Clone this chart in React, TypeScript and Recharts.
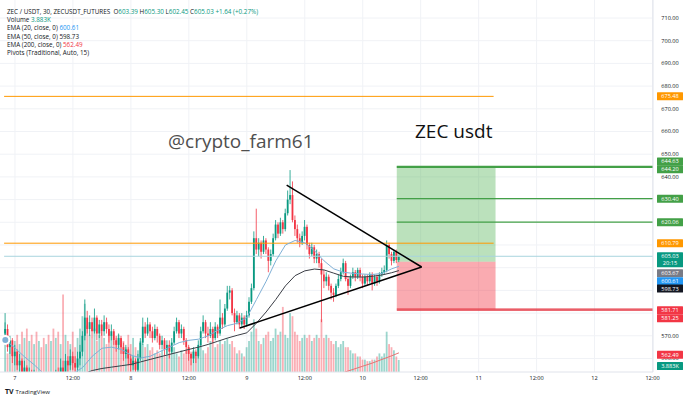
import React from 'react'
import {
  ComposedChart,
  Bar,
  Line,
  XAxis,
  YAxis,
  CartesianGrid,
  ReferenceLine,
  ReferenceArea,
} from 'recharts'

// 30 minute candles, t = half-hours since day 7 00:00
const startT = -4
const firstOpen = 571
const closes = [
  573, 565, 568, 561, 563,
  557, 559, 554, 556, 551, 553, 549, 552, 548, 550,
  547, 545, 548, 546, 549, 547, 552, 550, 556, 554,
  559, 557, 561, 558, 556, 560, 563, 570, 578, 573,
  576, 572, 578, 571, 575, 572, 576, 573, 570, 572,
  568, 566, 569, 565, 562, 564, 560, 557, 559, 555,
  560, 567, 574, 571, 575, 572, 569, 573, 570, 566,
  568, 564, 566, 563, 567, 572, 576, 571, 573, 568,
  565, 562, 560, 563, 561, 566, 572, 576, 571, 570,
  573, 569, 574, 571, 578, 575, 582, 589, 590, 580,
  576, 579, 575, 578, 575, 579, 585, 591, 613, 608,
  611, 607, 612, 608, 603, 606, 613, 619, 615, 620,
  617, 624, 630, 632, 621, 617, 613, 611, 614, 618,
  610, 606, 609, 604, 606, 602, 597, 594, 596, 592,
  589, 588, 592, 595, 598, 602, 595, 592, 596, 598,
  596, 599, 596, 593, 596, 594, 597, 593, 596, 594,
  597, 598, 599, 610, 606, 603, 607, 603.39, 605.03,
]
const highs = [
  580, 575, 570, 569, 566,
  564, 562, 560, 559, 557, 556, 555, 555, 553, 554,
  552, 550, 551, 550, 553, 552, 555, 556, 560, 559,
  562, 561, 564, 563, 561, 563, 566, 572, 586, 581,
  579, 578, 582, 579, 577, 577, 579, 578, 575, 575,
  573, 570, 571, 570, 567, 566, 565, 562, 561, 560,
  562, 569, 578, 576, 578, 576, 574, 575, 574, 571,
  570, 569, 568, 568, 569, 574, 578, 577, 575, 574,
  569, 566, 563, 565, 564, 568, 574, 579, 577, 574,
  576, 574, 576, 575, 586, 580, 584, 592, 592, 591,
  582, 581, 580, 580, 579, 581, 587, 593, 616, 626,
  613, 612, 614, 613, 609, 608, 615, 621, 620, 622,
  621, 626, 634, 643, 638, 623, 619, 615, 616, 621,
  619, 611, 611, 610, 608, 607, 604, 599, 598, 597,
  593, 591, 593, 597, 600, 604, 603, 596, 597, 600,
  599, 600, 600, 597, 597, 597, 598, 598, 597, 597,
  598, 600, 601, 612, 611, 607, 608, 608, 605.3,
]
const lows = [
  570, 563, 562, 558, 557,
  555, 553, 551, 550, 548, 549, 546, 547, 545, 546,
  544, 542, 543, 543, 544, 545, 546, 547, 548, 550,
  551, 553, 555, 555, 553, 554, 557, 561, 568, 571,
  570, 569, 571, 568, 569, 570, 570, 571, 567, 568,
  566, 563, 564, 562, 559, 560, 557, 554, 555, 552,
  554, 559, 566, 569, 570, 569, 567, 568, 567, 564,
  564, 561, 562, 560, 562, 566, 571, 569, 569, 566,
  562, 559, 557, 558, 558, 560, 565, 571, 569, 567,
  569, 567, 568, 569, 570, 573, 574, 581, 586, 579,
  572, 575, 573, 574, 573, 574, 578, 584, 590, 606,
  605, 604, 606, 606, 598, 601, 605, 612, 613, 614,
  615, 616, 623, 628, 620, 614, 611, 609, 610, 612,
  608, 604, 605, 602, 602, 600, 576, 591, 592, 590,
  586, 585, 587, 591, 594, 597, 594, 588, 591, 595,
  594, 595, 594, 591, 592, 592, 593, 590, 592, 592,
  593, 596, 597, 598, 604, 601, 602, 602, 602.45,
]
// volume in thousands
const volumes = [
  16, 6, 9, 8, 10,
  12, 9, 13, 11, 14, 10, 12, 9, 13, 10,
  8, 11, 9, 12, 10, 14, 11, 13, 9, 25,
  12, 10, 9, 13, 8, 11, 14, 18, 22, 15,
  12, 11, 14, 10, 12, 13, 11, 9, 13, 12,
  10, 11, 12, 9, 10, 8, 12, 9, 11, 8,
  7, 10, 9, 8, 9, 7, 8, 6, 7, 6,
  7, 5, 8, 6, 7, 8, 6, 5, 7, 6,
  7, 8, 6, 7, 5, 8, 9, 7, 6, 8,
  10, 12, 8, 9, 10, 9, 10, 11, 9, 10,
  8, 6, 7, 6, 5, 8, 10, 13, 17, 14,
  10, 9, 11, 12, 13, 10, 11, 14, 12, 13,
  21, 12, 11, 19, 18, 13, 12, 10, 11, 12,
  11, 12, 10, 11, 12, 11, 17, 11, 12, 11,
  10, 9, 10, 8, 9, 10, 8, 8, 7, 6,
  6, 5, 5, 4, 4, 3.5, 3.5, 4, 4, 5,
  6, 5, 6, 13, 9, 8, 7, 5, 3.883,
]

// EMA readings taken every 2 hours
const emaT = [
  -4, 0, 4, 8, 12, 16, 20, 24, 28, 32,
  36, 40, 44, 48, 52, 56, 60, 64, 68, 72,
  76, 80, 84, 88, 92, 96, 100, 104, 108, 112,
  116, 120, 124, 128, 132, 136, 140, 144, 148, 152,
  156, 159,
]
const ema20 = [
  568.2, 564.6, 560.7, 557.2, 553.2, 552.6, 552.4, 553.4, 556, 561,
  564.5, 565, 564, 561.5, 560.2, 561, 563, 565, 567, 568,
  568.5, 570, 572.5, 574.5, 575.5, 578, 586, 594, 603, 610,
  612, 611, 607.5, 603, 599.5, 598, 597.5, 597.2, 597, 597.5,
  599.5, 600.61,
]
const ema50 = [
  551, 551, 550.5, 550, 549.5, 549.5, 550, 551, 553, 554.7,
  555.6, 556.2, 556.8, 557.4, 558.5, 559.6, 560.7, 561.8, 562.9, 564,
  565, 566.2, 567.6, 569, 570.2, 571.3, 575.6, 580.5, 586, 592,
  596.5, 598.6, 599.4, 599, 597.6, 596.2, 595.9, 595.9, 596.2, 596.8,
  597.8, 598.73,
]
const ema200T = [116, 120, 124, 128, 132, 136, 140, 144, 148, 152, 156, 159]
const ema200 = [549.6, 550.2, 551, 551.8, 552.8, 553.8, 555.2, 556.6, 558, 559.6, 561.2, 562.49]

const xTicks = [0, 24, 48, 72, 96, 120, 144, 168, 192, 216, 240, 264]
const xTickLabels = ['7', '12:00', '8', '12:00', '9', '12:00', '10', '12:00', '11', '12:00', '12', '12:00']
const priceTicks = [710, 700, 690, 680, 670, 660, 650, 640, 570, 560]
const gridPrices = [560, 570, 580, 590, 600, 610, 620, 630, 640, 650, 660, 670, 680, 690, 700, 710]

// right scale price tags
const tagValues = [675.48, 644.63, 644.2, 630.4, 620.06, 610.79, 605.03, 603.67, 600.61, 598.73, 581.71, 581.25, 562.49]
const tagColors = ['#ff9800', '#43a047', '#43a047', '#43a047', '#43a047', '#ff9800', '#089981', '#787b86', '#2196f3', '#131722', '#f23645', '#f23645', '#f23645']
const tagShift = [0, -5, 2, 0, 0, 0, 0, 14, 15, 18, 1, 8, 2]
const countdown = '20:15'
const lastVolume = 3.883

// drawings
const pivotLevels = [675.48, 610.79]
const pivotFrom = -4.5
const pivotTo = 198.2
const lastPrice = 605.03
const boxFrom = 158.1
const boxTo = 199
const entry = 602.6
const targets = [644.63, 644.2, 630.4, 620.06]
const stops = [581.71, 581.25]
const upperTrend = [{ x: 112.5, y: 636.4 }, { x: 168.4, y: 600.3 }]
const lowerTrend = [{ x: 93.1, y: 573.4 }, { x: 168.4, y: 600.3 }]

const X_DOMAIN: [number, number] = [-6.2, 264.2]
const Y_DOMAIN: [number, number] = [554.05, 717.93]
const UP = '#089981'
const DOWN = '#f23645'
const FONT = '"Open Sans", "DejaVu Sans", sans-serif'

const candles = closes.map((c, i) => ({
  t: startT + i,
  o: i === 0 ? firstOpen : closes[i - 1],
  h: highs[i],
  l: lows[i],
  c,
  v: volumes[i],
}))

const ema20Data = emaT.map((t, i) => ({ t, v: ema20[i] }))
const ema50Data = emaT.map((t, i) => ({ t, v: ema50[i] }))
const ema200Data = ema200T.map((t, i) => ({ t, v: ema200[i] }))

const Candle = (props: any) => {
  const { x, y, width, height, payload } = props
  if (x == null || !payload) return null
  const top = Math.min(y, y + height)
  const span = Math.abs(height)
  const k = span / (payload.h - payload.l || 1)
  const yo = top + (payload.h - payload.o) * k
  const yc = top + (payload.h - payload.c) * k
  const color = payload.c >= payload.o ? UP : DOWN
  const cx = x + width / 2
  return (
    <g>
      <line x1={cx} x2={cx} y1={top} y2={top + span} stroke={color} strokeWidth={0.8} />
      <rect
        x={cx - 0.9}
        y={Math.min(yo, yc)}
        width={1.8}
        height={Math.max(Math.abs(yc - yo), 0.8)}
        fill={color}
      />
    </g>
  )
}

const VolumeBar = (props: any) => {
  const { x, y, width, height, payload } = props
  if (x == null || !payload) return null
  const cx = x + width / 2
  const color = payload.c >= payload.o ? UP : DOWN
  return <rect x={cx - 0.9} y={y} width={1.8} height={Math.max(height, 0)} fill={color} fillOpacity={0.4} />
}

const PriceTick = (props: any) => {
  const { x, y, payload } = props
  const v = payload.value
  const idx = tagValues.indexOf(v)
  if (idx < 0) {
    return (
      <text x={x + 17} y={y} dy={2} textAnchor="middle" fontSize={5.6} fill="#131722" fontFamily={FONT}>
        {v.toFixed(2)}
      </text>
    )
  }
  const cy = y + tagShift[idx]
  const tall = v === lastPrice
  return (
    <g>
      <rect x={x + 4} y={cy - 4} width={26} height={tall ? 15 : 8} fill={tagColors[idx]} rx={0.5} />
      <text x={x + 17} y={cy} dy={2} textAnchor="middle" fontSize={5.6} fill="#fff" fontFamily={FONT}>
        {v.toFixed(2)}
      </text>
      {tall && (
        <text x={x + 17} y={cy + 7} dy={2} textAnchor="middle" fontSize={5.6} fill="#fff" fontFamily={FONT}>
          {countdown}
        </text>
      )}
    </g>
  )
}

const VolumeTag = (props: any) => {
  const vb = props.viewBox
  if (!vb) return null
  const x = vb.x + vb.width
  const cy = vb.y + 6
  return (
    <g>
      <rect x={x + 4} y={cy - 4} width={26} height={8} fill={UP} rx={0.5} />
      <text x={x + 17} y={cy} dy={2} textAnchor="middle" fontSize={5.6} fill="#fff" fontFamily={FONT}>
        {lastVolume.toFixed(3)}K
      </text>
    </g>
  )
}

const teal = { color: UP }

export default function App() {
  return (
    <div
      style={{
        position: 'absolute',
        left: 0,
        top: 0,
        width: 690,
        height: 400,
        background: '#fff',
        fontFamily: FONT,
        overflow: 'hidden',
      }}
    >
      <ComposedChart
        width={690}
        height={400}
        data={candles}
        margin={{ top: 0, right: 0, left: 0, bottom: 16 }}
      >
        <CartesianGrid
          stroke="#f0f2f6"
          horizontalValues={gridPrices}
          verticalValues={xTicks}
        />
        <XAxis
          dataKey="t"
          type="number"
          domain={X_DOMAIN}
          allowDataOverflow
          ticks={xTicks}
          interval={0}
          tickFormatter={(v: number) => xTickLabels[xTicks.indexOf(v)]}
          tick={{ fontSize: 5.6, fill: '#131722', fontFamily: FONT }}
          tickSize={0}
          tickMargin={4}
          height={12}
          axisLine={{ stroke: '#e0e3eb' }}
        />
        <XAxis xAxisId="v" dataKey="t" type="number" domain={X_DOMAIN} allowDataOverflow hide />
        <YAxis
          orientation="right"
          domain={Y_DOMAIN}
          allowDataOverflow
          ticks={[...priceTicks, ...tagValues]}
          interval={0}
          width={37}
          tickSize={0}
          tickMargin={0}
          tick={<PriceTick />}
          axisLine={{ stroke: '#e0e3eb' }}
        />
        <YAxis yAxisId="vol" domain={[0, 120]} hide />

        <Bar
          xAxisId="v"
          yAxisId="vol"
          dataKey="v"
          barSize={2}
          shape={<VolumeBar />}
          isAnimationActive={false}
        />

        <ReferenceArea x1={boxFrom} x2={boxTo} y1={entry} y2={targets[0]} fill="#4caf50" fillOpacity={0.38} stroke="none" />
        <ReferenceArea x1={boxFrom} x2={boxTo} y1={stops[0]} y2={entry} fill="#f23645" fillOpacity={0.42} stroke="none" />

        {pivotLevels.map((p) => (
          <ReferenceLine
            key={p}
            segment={[{ x: pivotFrom, y: p }, { x: pivotTo, y: p }]}
            stroke="#ff9800"
            strokeWidth={1}
          />
        ))}
        <ReferenceLine
          segment={[{ x: pivotFrom, y: lastPrice }, { x: X_DOMAIN[1], y: lastPrice }]}
          stroke="#a8d5de"
          strokeWidth={1}
        />
        {targets.map((p) => (
          <ReferenceLine
            key={p}
            segment={[{ x: boxFrom, y: p }, { x: X_DOMAIN[1], y: p }]}
            stroke="#43a047"
            strokeWidth={1.2}
          />
        ))}
        {stops.map((p) => (
          <ReferenceLine
            key={p}
            segment={[{ x: boxFrom, y: p }, { x: X_DOMAIN[1], y: p }]}
            stroke="#e53945"
            strokeWidth={1.2}
          />
        ))}

        <Line data={ema200Data} dataKey="v" stroke="#e57373" strokeWidth={1} dot={false} isAnimationActive={false} />
        <Line data={ema50Data} dataKey="v" stroke="#3a3d45" strokeWidth={1} dot={false} isAnimationActive={false} />
        <Line data={ema20Data} dataKey="v" stroke="#7fb0d6" strokeWidth={1} dot={false} isAnimationActive={false} />

        <Bar
          dataKey={(d: any) => [d.l, d.h]}
          barSize={2}
          shape={<Candle />}
          isAnimationActive={false}
        />

        <ReferenceLine segment={upperTrend} stroke="#000" strokeWidth={1.5} />
        <ReferenceLine segment={lowerTrend} stroke="#000" strokeWidth={1.5} />

        <ReferenceLine
          yAxisId="vol"
          y={lastVolume}
          stroke="none"
          label={(p: any) => <VolumeTag {...p} />}
        />
      </ComposedChart>

      <div
        style={{
          position: 'absolute',
          left: 7,
          top: 8,
          fontSize: 6.3,
          lineHeight: '8.2px',
          color: '#131722',
          whiteSpace: 'nowrap',
        }}
      >
        <div>
          ZEC / USDT, 30, ZECUSDT_FUTURES&nbsp; O<span style={teal}>603.39</span> H<span style={teal}>605.30</span> L
          <span style={teal}>602.45</span> C<span style={teal}>605.03</span> <span style={teal}>+1.64 (+0.27%)</span>
        </div>
        <div>
          Volume <span style={teal}>3.883K</span>
        </div>
        <div>
          EMA (20, close, 0) <span style={{ color: '#2196f3' }}>600.61</span>
        </div>
        <div>
          EMA (50, close, 0) <span>598.73</span>
        </div>
        <div>
          EMA (200, close, 0) <span style={{ color: '#f23645' }}>562.49</span>
        </div>
        <div>Pivots (Traditional, Auto, 15)</div>
      </div>

      <div
        style={{
          position: 'absolute',
          left: 168,
          top: 132,
          fontSize: 19,
          lineHeight: '19px',
          color: '#4f4f4f',
          whiteSpace: 'nowrap',
        }}
      >
        @crypto_farm61
      </div>
      <div
        style={{
          position: 'absolute',
          left: 415,
          top: 122,
          fontSize: 19,
          lineHeight: '19px',
          color: '#111',
          whiteSpace: 'nowrap',
        }}
      >
        ZEC usdt
      </div>

      <div
        style={{
          position: 'absolute',
          left: 5,
          top: 388,
          fontSize: 6,
          lineHeight: '8px',
          color: '#131722',
          whiteSpace: 'nowrap',
        }}
      >
        <b style={{ fontSize: 7, marginRight: 2 }}>TV</b>TradingView
      </div>
    </div>
  )
}
